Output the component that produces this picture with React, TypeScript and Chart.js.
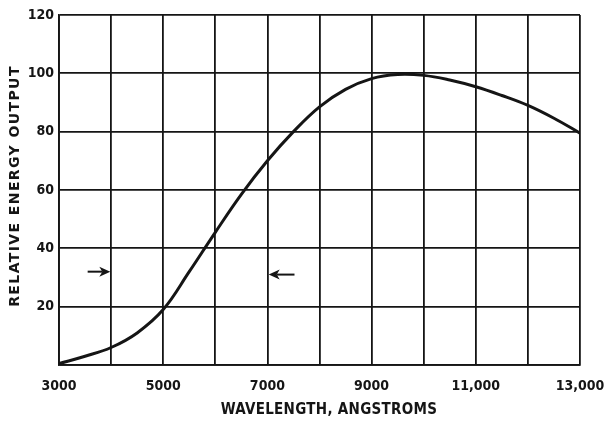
import { useEffect, useRef } from 'react';
import { Chart, registerables } from 'chart.js';

Chart.register(...registerables);

const wavelengths = [3000, 3500, 4000, 4500, 5000, 5500, 6000, 6500, 7000, 7500, 8000, 8500, 9000, 9500, 10000, 10500, 11000, 11500, 12000, 12500, 13000];
const energyOutput = [0.5, 3, 6, 11, 19, 32, 45.5, 58.5, 70, 80, 88.5, 94.5, 98.2, 99.6, 99.3, 97.7, 95.4, 92.4, 89, 84.6, 79.5];

const xTickValues = [3000, 4000, 5000, 6000, 7000, 8000, 9000, 10000, 11000, 12000, 13000];
const xTickLabels = ['3000', '', '5000', '', '7000', '', '9000', '', '11,000', '', '13,000'];
const yTickValues = [0, 20, 40, 60, 80, 100, 120];
const yTickLabels = ['', '20', '40', '60', '80', '100', '120'];

const xTitle = 'WAVELENGTH, ANGSTROMS';
const yTitle = 'RELATIVE ENERGY OUTPUT';

// arrows marking the band: tail wavelength, tip wavelength, level
const arrowTails = [3550, 7520];
const arrowTips = [3985, 7025];
const arrowLevels = [32, 31];

const INK = '#151515';
const FONT = "'DejaVu Sans Condensed', 'DejaVu Sans', sans-serif";

export default function App() {
  const ref = useRef<HTMLCanvasElement | null>(null);

  useEffect(() => {
    if (!ref.current) return;
    const extras = {
      id: 'extras',
      afterDraw(chart: any) {
        const { ctx, scales } = chart;
        const xs = scales.x;
        const ys = scales.y;
        ctx.save();
        // arrows
        ctx.strokeStyle = INK;
        ctx.fillStyle = INK;
        ctx.lineWidth = 2;
        for (let i = 0; i < arrowTails.length; i++) {
          const x0 = xs.getPixelForValue(arrowTails[i]);
          const x1 = xs.getPixelForValue(arrowTips[i]);
          const y = ys.getPixelForValue(arrowLevels[i]);
          const dir = x1 > x0 ? 1 : -1;
          ctx.beginPath();
          ctx.moveTo(x0, y);
          ctx.lineTo(x1 - dir * 8, y);
          ctx.stroke();
          ctx.beginPath();
          ctx.moveTo(x1, y);
          ctx.lineTo(x1 - dir * 11, y - 5);
          ctx.lineTo(x1 - dir * 8, y);
          ctx.lineTo(x1 - dir * 11, y + 5);
          ctx.closePath();
          ctx.fill();
        }
        // axis titles
        ctx.fillStyle = INK;
        ctx.textAlign = 'center';
        ctx.textBaseline = 'middle';
        ctx.font = `bold 15px ${FONT}`;
        (ctx as any).letterSpacing = '0.3px';
        ctx.fillText(xTitle, 329, 410);
        ctx.translate(15, 186);
        ctx.rotate(-Math.PI / 2);
        ctx.font = `bold 14px 'DejaVu Sans', sans-serif`;
        (ctx as any).letterSpacing = '1.4px';
        ctx.fillText(yTitle, 0, 0);
        ctx.restore();
      },
    };

    const chart = new Chart(ref.current, {
      type: 'line',
      data: {
        datasets: [
          {
            data: wavelengths.map((w, i) => ({ x: w, y: energyOutput[i] })),
            borderColor: INK,
            borderWidth: 3,
            pointRadius: 0,
            fill: false,
            tension: 0.4,
          },
        ],
      },
      options: {
        animation: false,
        responsive: false,
        devicePixelRatio: 1,
        layout: { padding: { top: 15, right: 25, left: 0, bottom: 0 } },
        plugins: { legend: { display: false }, tooltip: { enabled: false } },
        scales: {
          x: {
            type: 'linear',
            min: 3000,
            max: 13000,
            afterBuildTicks: (s: any) => {
              s.ticks = xTickValues.map((v) => ({ value: v }));
            },
            afterFit: (s: any) => {
              s.height = 58;
              s.paddingRight = 0;
              s.paddingLeft = 0;
            },
            ticks: {
              autoSkip: false,
              maxRotation: 0,
              padding: 13,
              color: INK,
              font: { family: FONT, weight: 'bold', size: 14 },
              callback: (v: any) => xTickLabels[xTickValues.indexOf(Number(v))] ?? '',
            },
            grid: { color: INK, lineWidth: 1.8, drawTicks: false },
            border: { color: INK, width: 1.8 },
          },
          y: {
            type: 'linear',
            min: 0,
            max: 120,
            afterBuildTicks: (s: any) => {
              s.ticks = yTickValues.map((v) => ({ value: v }));
            },
            afterFit: (s: any) => {
              s.width = 59;
              s.paddingTop = 0;
              s.paddingBottom = 0;
            },
            ticks: {
              padding: 5,
              color: INK,
              font: { family: FONT, weight: 'bold', size: 14 },
              callback: (v: any) => yTickLabels[yTickValues.indexOf(Number(v))] ?? '',
            },
            grid: { color: INK, lineWidth: 1.8, drawTicks: false },
            border: { color: INK, width: 1.8 },
          },
        },
      } as any,
      plugins: [extras],
    });
    return () => chart.destroy();
  }, []);

  return (
    <div style={{ position: 'fixed', left: 0, top: 0, width: 605, height: 423, background: '#fff' }}>
      <canvas ref={ref} width={605} height={423} style={{ width: 605, height: 423, display: 'block' }} />
    </div>
  );
}
